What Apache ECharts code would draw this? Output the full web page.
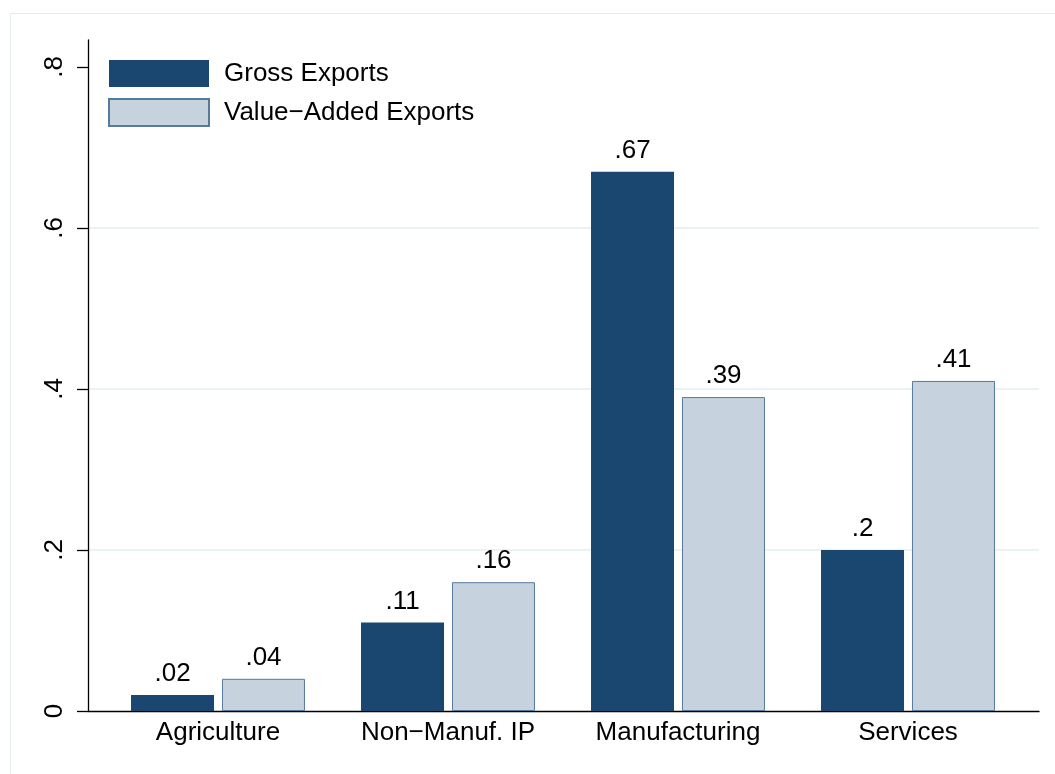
<!DOCTYPE html>
<html><head><meta charset="utf-8">
<script src="https://cdn.jsdelivr.net/npm/echarts@6/dist/echarts.min.js"></script>
<style>html,body{margin:0;padding:0;background:#fff}#c{width:1055px;height:774px}</style>
</head><body><div id="c"></div>
<script>
const categories = ['Agriculture', 'Non\u2212Manuf. IP', 'Manufacturing', 'Services'];
const grossExports = [0.02, 0.11, 0.67, 0.2];
const valueAddedExports = [0.04, 0.16, 0.39, 0.41];
const seriesNames = ['Gross Exports', 'Value\u2212Added Exports'];
const yTicks = [0, 0.2, 0.4, 0.6, 0.8];

const FONT = 'Liberation Sans, Arial, Helvetica, sans-serif';
const fmt = v => { if (v === 0) return '0'; let s = String(+v.toFixed(2)); return s.replace(/^0\./, '.'); };

const chart = echarts.init(document.getElementById('c'), null, {renderer: 'canvas'});
chart.setOption({
  backgroundColor: '#ffffff',
  animation: false,
  textStyle: {fontFamily: FONT},
  graphic: [{
    type: 'rect', shape: {x: 10.5, y: 13.5, width: 1200, height: 900},
    style: {fill: 'none', stroke: '#e5ecee', lineWidth: 1}, z: -10, silent: true
  }],
  legend: {
    left: 108, top: 60, padding: 0, orient: 'vertical', itemGap: 11,
    itemWidth: 100, itemHeight: 27, icon: 'rect',
    textStyle: {fontFamily: FONT, fontSize: 26, color: '#000', padding: [2, 0, 0, 10]},
    data: seriesNames
  },
  grid: [
    {left: 88, right: 16, top: 40, bottom: 63},
    {left: 88, right: 16, top: 67, bottom: 63},
    {left: 103, right: 32, top: 67, bottom: 63}
  ],
  xAxis: [
    {gridIndex: 0, type: 'category', data: categories, axisLine: {show: true, lineStyle: {color: '#000', width: 1.3}},
     axisTick: {show: false}, axisLabel: {show: false}, splitLine: {show: false}},
    {gridIndex: 1, type: 'category', data: categories, axisLine: {show: false},
     axisTick: {show: false}, axisLabel: {show: false}, splitLine: {show: false}},
    {gridIndex: 2, type: 'category', data: categories, axisLine: {show: false},
     axisTick: {show: false}, splitLine: {show: false},
     axisLabel: {fontFamily: FONT, fontSize: 26, color: '#000', margin: 9}}
  ],
  yAxis: [
    {gridIndex: 0, type: 'value', min: 0, max: 0.8335, axisLine: {show: true, lineStyle: {color: '#000', width: 1.3}},
     axisTick: {show: false}, axisLabel: {show: false}, splitLine: {show: false}},
    {gridIndex: 1, type: 'value', min: 0, max: 0.8, interval: 0.2, axisLine: {show: false},
     axisTick: {show: true, length: 11, lineStyle: {color: '#000', width: 1.3}},
     axisLabel: {rotate: 90, fontFamily: FONT, fontSize: 26, color: '#000', margin: 20, formatter: fmt},
     splitLine: {show: true, showMinLine: false, showMaxLine: false, lineStyle: {color: '#eaf2f3', width: 2}}},
    {gridIndex: 2, type: 'value', min: 0, max: 0.8, interval: 0.2, show: false}
  ],
  series: [
    {name: seriesNames[0], type: 'bar', xAxisIndex: 2, yAxisIndex: 2, data: grossExports,
     barWidth: 83, barGap: '9.6%',
     itemStyle: {color: '#1a476f', borderColor: '#1a476f', borderWidth: 0},
     label: {show: true, position: 'top', distance: 8, fontFamily: FONT, fontSize: 26, color: '#000', formatter: p => fmt(p.value)}},
    {name: seriesNames[1], type: 'bar', xAxisIndex: 2, yAxisIndex: 2, data: valueAddedExports,
     barWidth: 83, barGap: '9.6%',
     itemStyle: {color: '#c6d2dd', borderColor: '#56799e', borderWidth: 1},
     label: {show: true, position: 'top', distance: 8, fontFamily: FONT, fontSize: 26, color: '#000', formatter: p => fmt(p.value)}}
  ]
});
</script></body></html>
